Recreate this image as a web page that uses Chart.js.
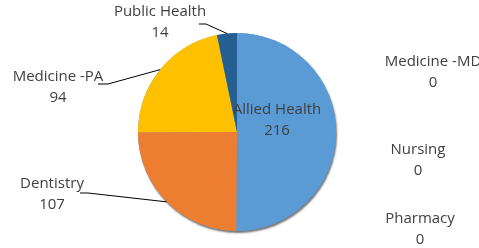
<!DOCTYPE html>
<html>
<head>
<meta charset="utf-8">
<script src="https://cdn.jsdelivr.net/npm/chart.js@4/dist/chart.umd.min.js"></script>
<style>
  html, body { margin: 0; padding: 0; background: #fff; }
  #wrap { width: 479px; height: 248px; position: relative; }
</style>
</head>
<body>
<div id="wrap"><canvas id="chart"></canvas></div>
<script>
const programs = ["Allied Health", "Dentistry", "Medicine -MD", "Medicine -PA", "Nursing", "Pharmacy", "Public Health"];
const counts = [216, 107, 0, 94, 0, 0, 14];
const sliceColors = ["#5B9BD5", "#ED7D31", "#A5A5A5", "#FFC000", "#4472C4", "#70AD47", "#255E91"];

// where Excel put each label (text centre), and where the leader line starts
const labelLayout = {
  "Allied Health": { x: 277, y: 110 },
  "Dentistry": { x: 52, y: 184, line: [80, 193, 88, 193] },
  "Medicine -MD": { x: 433, y: 62 },
  "Medicine -PA": { x: 58, y: 77, line: [98, 84, 108, 84] },
  "Nursing": { x: 418, y: 150 },
  "Pharmacy": { x: 420, y: 219 },
  "Public Health": { x: 160, y: 12, line: [199, 24, 206, 24] }
};

const pieShadow = {
  id: "pieShadow",
  beforeDatasetsDraw(chart) {
    const arc = chart.getDatasetMeta(0).data[0];
    if (!arc) return;
    const ctx = chart.ctx;
    ctx.save();
    ctx.shadowColor = "rgba(0,0,0,0.55)";
    ctx.shadowBlur = 2;
    ctx.shadowOffsetX = 1;
    ctx.shadowOffsetY = 2;
    ctx.fillStyle = "#5B9BD5";
    ctx.beginPath();
    ctx.arc(arc.x, arc.y, arc.outerRadius, 0, Math.PI * 2);
    ctx.fill();
    ctx.restore();
  }
};

const sliceLabels = {
  id: "sliceLabels",
  afterDatasetsDraw(chart) {
    const ctx = chart.ctx;
    const meta = chart.getDatasetMeta(0);
    ctx.save();
    ctx.font = "15px 'Open Sans'";
    ctx.textAlign = "center";
    ctx.textBaseline = "middle";
    programs.forEach((name, i) => {
      const pos = labelLayout[name];
      const arc = meta.data[i];
      if (pos.line && arc) {
        const mid = (arc.startAngle + arc.endAngle) / 2;
        const ex = arc.x + Math.cos(mid) * arc.outerRadius;
        const ey = arc.y + Math.sin(mid) * arc.outerRadius;
        ctx.strokeStyle = "#000";
        ctx.lineWidth = 1;
        ctx.beginPath();
        ctx.moveTo(pos.line[0], pos.line[1]);
        ctx.lineTo(pos.line[2], pos.line[3]);
        ctx.lineTo(ex, ey);
        ctx.stroke();
      }
      ctx.fillStyle = "#404040";
      ctx.fillText(name, pos.x, pos.y);
      ctx.fillText(String(counts[i]), pos.x, pos.y + 21);
    });
    ctx.restore();
  }
};

new Chart(document.getElementById("chart"), {
  type: "pie",
  data: {
    labels: programs,
    datasets: [{
      data: counts,
      backgroundColor: sliceColors,
      borderWidth: 0
    }]
  },
  options: {
    responsive: true,
    maintainAspectRatio: false,
    animation: false,
    layout: { padding: { left: 138, right: 143, top: 33, bottom: 17 } },
    plugins: {
      legend: { display: false },
      tooltip: { enabled: false }
    }
  },
  plugins: [pieShadow, sliceLabels]
});
</script>
</body>
</html>
